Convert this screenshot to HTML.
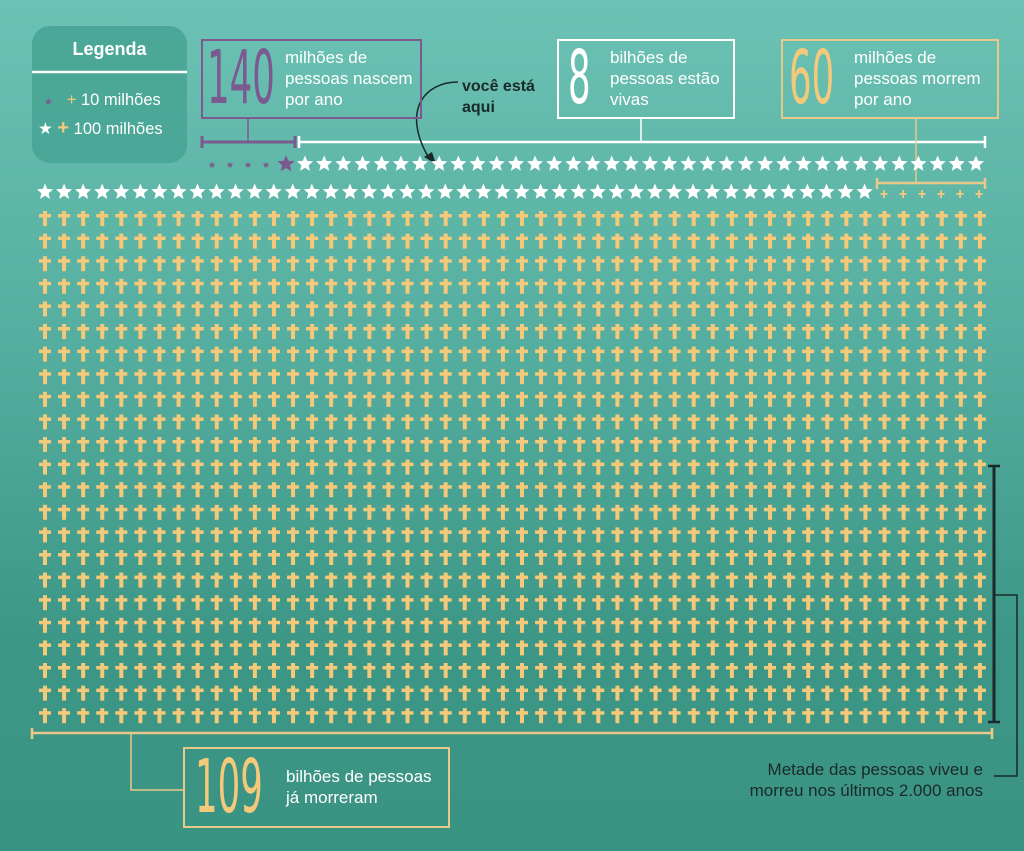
<!DOCTYPE html>
<html><head><meta charset="utf-8"><style>
html,body{margin:0;padding:0}
body{width:1024px;height:851px;overflow:hidden;background:linear-gradient(180deg,#6cc2b4 0%,#55ae9f 40%,#3d9787 75%,#3a9382 100%);font-family:"Liberation Sans",sans-serif;position:relative}
.t{position:absolute;color:#fff;font-size:17px;line-height:21px;white-space:nowrap}
.big{position:absolute;font-family:"DejaVu Sans",sans-serif;font-size:74px;line-height:74px;transform:scaleX(0.48);transform-origin:left top}
.box{position:absolute;box-sizing:border-box}
</style></head><body>
<svg id="s" width="1024" height="851" style="position:absolute;left:0;top:0">
<rect x="32" y="26" width="155" height="137" rx="18" fill="#48a595" opacity="0.9"/>
<line x1="32" y1="72" x2="187" y2="72" stroke="#fff" stroke-width="2.5"/>
<g stroke="#7b5a8f" stroke-width="3" fill="none">
<line x1="202" y1="142" x2="295" y2="142"/><line x1="202" y1="136" x2="202" y2="148"/><line x1="295" y1="136" x2="295" y2="148"/>
<line x1="248" y1="119" x2="248" y2="142" stroke-width="1.5"/></g>
<g stroke="#fff" stroke-width="2.5" fill="none">
<line x1="299" y1="142" x2="985" y2="142"/><line x1="299" y1="136" x2="299" y2="148"/><line x1="985" y1="136" x2="985" y2="148"/>
<line x1="641" y1="119" x2="641" y2="142" stroke-width="1.5"/></g>
<g stroke="#e8c98a" stroke-width="2.5" fill="none">
<line x1="877" y1="183" x2="985" y2="183"/><line x1="877" y1="178" x2="877" y2="189"/><line x1="985" y1="178" x2="985" y2="189"/>
<line x1="916" y1="119" x2="916" y2="183" stroke-width="1.5"/>
<line x1="32" y1="733" x2="992" y2="733"/><line x1="32" y1="728" x2="32" y2="739"/><line x1="992" y1="728" x2="992" y2="739"/>
<polyline points="131,733 131,790 183,790" stroke-width="1.5"/></g>
<g stroke="#1a2a2a" fill="none">
<line x1="994" y1="466" x2="994" y2="722" stroke-width="3"/><line x1="988" y1="466" x2="1000" y2="466" stroke-width="2.5"/><line x1="988" y1="722" x2="1000" y2="722" stroke-width="2.5"/>
<polyline points="994,595 1017,595 1017,776 994,776" stroke-width="1.5"/>
<path d="M458,82 C425,82 400,110 430,160" stroke-width="1.5"/></g>
<polygon points="424,157 436,164 432,152" fill="#1a2a2a"/>
<g id="g"></g>
</svg>
<div class="t" style="left:32px;width:155px;text-align:center;top:39px;font-weight:bold;font-size:18px">Legenda</div>
<div class="t" style="left:44px;top:90px;font-size:16.5px"><span style="color:#7b5a8f;font-size:10px">★</span>&nbsp;&nbsp;&nbsp;<span style="color:#f5c97a">+</span> 10 milhões</div>
<div class="t" style="left:38px;top:118px;font-size:16.5px">★ <span style="color:#f5c97a;font-weight:bold;font-size:20px">+</span> 100 milhões</div>
<div class="box" style="left:201px;top:39px;width:221px;height:80px;border:2px solid #7b5a8f"></div>
<div class="big" style="left:207px;top:41px;color:#7b5a8f">140</div>
<div class="t" style="left:285px;top:47px">milhões de<br>pessoas nascem<br>por ano</div>
<div class="t" style="left:462px;top:76px;color:#1a2a2a;font-weight:bold;font-size:16px">você está<br>aqui</div>
<div class="box" style="left:557px;top:39px;width:178px;height:80px;border:2px solid #fff"></div>
<div class="big" style="left:568px;top:41px;color:#fff">8</div>
<div class="t" style="left:610px;top:47px">bilhões de<br>pessoas estão<br>vivas</div>
<div class="box" style="left:781px;top:39px;width:218px;height:80px;border:2px solid #e8c98a"></div>
<div class="big" style="left:789px;top:41px;color:#f5c97a">60</div>
<div class="t" style="left:854px;top:47px">milhões de<br>pessoas morrem<br>por ano</div>
<div class="box" style="left:183px;top:747px;width:267px;height:81px;border:2px solid #e8c98a"></div>
<div class="big" style="left:195px;top:750px;color:#f5c97a">109</div>
<div class="t" style="left:286px;top:766px">bilhões de pessoas<br>já morreram</div>
<div class="t" style="right:41px;top:759px;color:#1a2a2a;text-align:right">Metade das pessoas viveu e<br>morreu nos últimos 2.000 anos</div>
<script>
var g=document.getElementById('g'),h='';
function star(cx,cy,r,c){var p=[];for(var i=0;i<10;i++){var a=Math.PI/5*i-Math.PI/2,rr=i%2?r*0.45:r;p.push((cx+rr*Math.cos(a)).toFixed(1)+','+(cy+rr*Math.sin(a)).toFixed(1));}h+='<polygon points="'+p.join(' ')+'" fill="'+c+'"/>';}
function cross(x,y){h+='<rect x="'+(x-2)+'" y="'+(y-7)+'" width="4" height="15" fill="#f5c97a"/><rect x="'+(x-6)+'" y="'+(y-4)+'" width="12" height="3.5" fill="#f5c97a"/>';}
function sm(x,y){h+='<rect x="'+(x-0.8)+'" y="'+(y-4)+'" width="1.8" height="8" fill="#f5c97a"/><rect x="'+(x-3.5)+'" y="'+(y-1)+'" width="7" height="1.8" fill="#f5c97a"/>';}
[212,230,248,266].forEach(function(x){star(x,165,3.5,'#7b5a8f')});
star(286,164,9,'#7b5a8f');
for(var k=0;k<36;k++)star(305+k*19.17,164,8.5,'#fff');
for(var k=0;k<44;k++)star(45+k*19.06,192,8.5,'#fff');
for(var k=0;k<6;k++)sm(884+k*19,194);
for(var r=0;r<23;r++)for(var c=0;c<50;c++)cross(45+c*19.08,218+r*22.6);
g.innerHTML=h;
</script>
</body></html>
